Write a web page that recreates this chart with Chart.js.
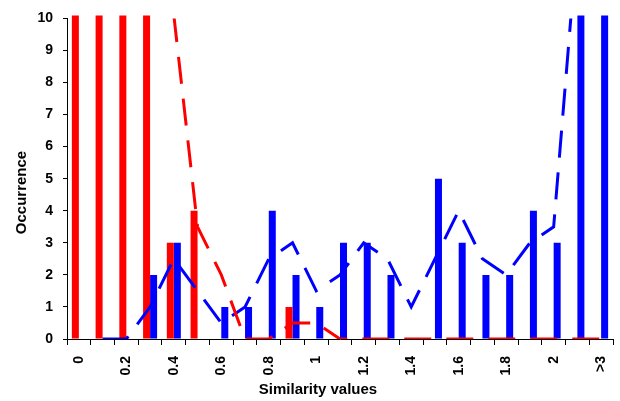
<!DOCTYPE html>
<html>
<head>
<meta charset="utf-8">
<script src="https://cdn.jsdelivr.net/npm/chart.js@4/dist/chart.umd.min.js"></script>
<style>
  html, body { margin: 0; padding: 0; background: #fff; }
  canvas { display: block; }
</style>
</head>
<body>
<canvas id="chart" width="620" height="401"></canvas>
<script>
// similarity classes (0 .. 2 in steps of 0.1, then the two tail classes)
var categories = ['0', '0.1', '0.2', '0.3', '0.4', '0.5', '0.6', '0.7', '0.8', '0.9',
  '1', '1.1', '1.2', '1.3', '1.4', '1.5', '1.6', '1.7', '1.8', '1.9', '2', '3', '>3'];

// occurrences per class; the first red and last blue classes run off the top
var redCounts  = [15, 15, 15, 17, 3, 4, 0, 0, 0, 1, 0, 0, 0, 0, 0, 0, 0, 0, 0, 0, 0, 0, 0];
var blueCounts = [0, 0, 0, 2, 3, 0, 1, 1, 4, 2, 1, 3, 3, 2, 0, 5, 3, 2, 2, 4, 3, 22, 25];

// 2-period moving averages drawn as dashed trend lines
var redTrend  = [null, null, null, null, 10.1, 3.5, 2, 0, 0, 0.5, 0.5, 0, 0, 0, 0, 0, 0, 0, 0, 0, 0, 0, 0];
var blueTrend = [null, 0, 0, 1, 2.5, 1.5, 0.5, 1, 2.5, 3, 1.5, 2, 3, 2.5, 1, 2.5, 4, 2.5, 2, 3, 3.5, 12.5, null];

var yTicks = [0, 10, 1]; // min, max, step
var xTitle = 'Similarity values';
var yTitle = 'Occurrence';

var RED = '#ff0000';
var BLUE = '#0000ff';
var FONT = '"Liberation Sans", Arial, sans-serif';

// axis titles, placed the way the spreadsheet laid them out
var axisTitles = {
  id: 'axisTitles',
  afterDraw: function (chart) {
    var ctx = chart.ctx;
    ctx.save();
    ctx.fillStyle = '#000';
    ctx.font = 'bold 15px ' + FONT;
    ctx.textAlign = 'center';
    ctx.textBaseline = 'alphabetic';
    ctx.fillText(xTitle, 318, 394);
    ctx.translate(25.5, 192.5);
    ctx.rotate(-Math.PI / 2);
    ctx.fillText(yTitle, 0, 0);
    ctx.restore();
  }
};

function trendLine(data, color) {
  return {
    type: 'line',
    data: data,
    borderColor: color,
    borderWidth: 3,
    borderDash: [27, 15],
    borderCapStyle: 'butt',
    pointRadius: 0,
    fill: false,
    tension: 0,
    order: 0
  };
}

function countBars(data, color) {
  return {
    type: 'bar',
    data: data,
    backgroundColor: color,
    borderWidth: 0,
    categoryPercentage: 0.59,
    barPercentage: 1.0,
    clip: { left: 0, top: 3, right: 0, bottom: 0 },
    order: 1
  };
}

new Chart(document.getElementById('chart'), {
  data: {
    labels: categories,
    datasets: [
      trendLine(redTrend, RED),
      trendLine(blueTrend, BLUE),
      countBars(redCounts, RED),
      countBars(blueCounts, BLUE)
    ]
  },
  options: {
    responsive: false,
    animation: false,
    layout: { padding: { top: 16, right: 7, left: 0, bottom: 0 } },
    plugins: {
      legend: { display: false },
      tooltip: { enabled: false }
    },
    scales: {
      x: {
        offset: true,
        afterFit: function (scale) {
          scale.height = 62;
          scale.paddingLeft = 0;
          scale.paddingRight = 0;
        },
        border: { color: '#000', width: 1 },
        grid: { offset: true, drawOnChartArea: false, color: '#000', tickLength: 6 },
        ticks: {
          autoSkip: false,
          minRotation: 90,
          maxRotation: 90,
          padding: 11,
          color: '#000',
          font: { family: FONT, size: 14, weight: 'bold' },
          callback: function (val, i) {
            return (i % 2 === 0 || i === categories.length - 1) ? categories[i] : '';
          }
        }
      },
      y: {
        min: yTicks[0],
        max: yTicks[1],
        afterFit: function (scale) { scale.width = 67; },
        border: { color: '#000', width: 1 },
        grid: { drawOnChartArea: false, color: '#000', tickLength: 4 },
        ticks: {
          stepSize: yTicks[2],
          padding: 10,
          color: '#000',
          font: { family: FONT, size: 14, weight: 'bold' }
        }
      }
    }
  },
  plugins: [axisTitles]
});
</script>
</body>
</html>
